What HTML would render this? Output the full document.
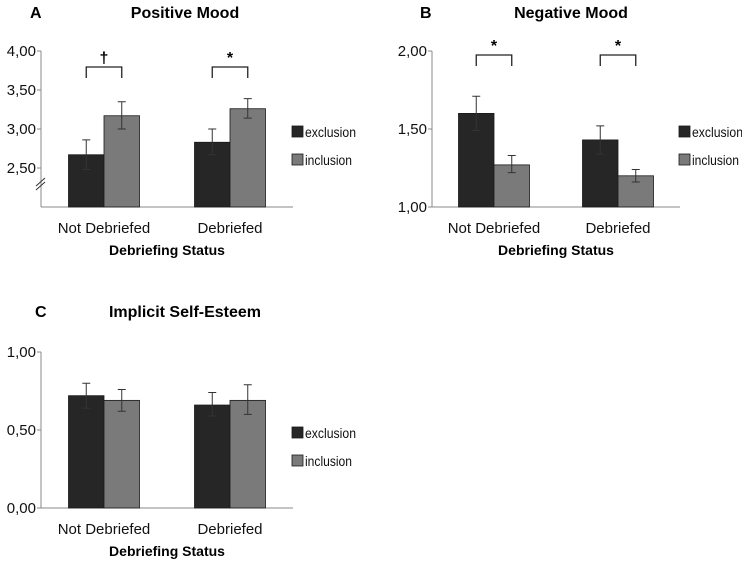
<!DOCTYPE html>
<html><head><meta charset="utf-8"><style>
body{margin:0;background:#fff;width:742px;height:563px;overflow:hidden;font-family:"Liberation Sans",sans-serif}
svg text{font-family:"Liberation Sans",sans-serif}
</style></head><body>
<svg id="c" width="742" height="563"></svg>
<script>
const categories=["Not Debriefed","Debriefed"];
const seriesNames=["exclusion","inclusion"];
const posMood=[[2.67,3.17],[2.83,3.26]];
const posErrLo=[[2.48,3.00],[2.67,3.14]];
const posErrHi=[[2.86,3.35],[3.00,3.39]];
const negMood=[[1.60,1.27],[1.43,1.20]];
const negErrLo=[[1.49,1.22],[1.34,1.16]];
const negErrHi=[[1.71,1.33],[1.52,1.24]];
const selfEsteem=[[0.72,0.69],[0.66,0.69]];
const seErrLo=[[0.64,0.62],[0.59,0.60]];
const seErrHi=[[0.80,0.76],[0.74,0.79]];
const posTicks=["4,00","3,50","3,00","2,50"];
const posTickVals=[4,3.5,3,2.5];
const negTicks=["2,00","1,50","1,00"];
const negTickVals=[2,1.5,1];
const seTicks=["1,00","0,50","0,00"];
const seTickVals=[1,0.5,0];
const posSig=["†","*"];
const negSig=["*","*"];
const NS="http://www.w3.org/2000/svg";
const svg=document.getElementById('c');
function el(t,a,p){const e=document.createElementNS(NS,t);for(const k in a)e.setAttribute(k,a[k]);(p||svg).appendChild(e);return e;}
const colors=["#262626","#7a7a7a"];
const legW=[51,47];
function panel(o){
  const g=el('g',{});
  
  
  const y=v=>o.y0+(v-o.vmin)/(o.vmax-o.vmin)*(o.y1-o.y0);
  let t=el('text',{x:o.lx,y:o.ty,'font-size':16,'font-weight':'bold'},g);t.textContent=o.letter;
  
  t=el('text',{x:o.tx,y:o.ty,'font-size':16,'font-weight':'bold','text-anchor':'middle'},g);t.textContent=o.title;
  
  el('line',{x1:o.ax,y1:o.y1,x2:o.ax,y2:o.y0,stroke:'#888','stroke-width':1},g);
  el('line',{x1:o.ax,y1:o.y0,x2:o.ax+o.aw,y2:o.y0,stroke:'#888','stroke-width':1},g);
  o.tickVals.forEach((v,i)=>{
    el('line',{x1:o.ax-4,y1:y(v),x2:o.ax,y2:y(v),stroke:'#888'},g);
    const tt=el('text',{x:o.ax-5,y:y(v)+5,'font-size':15,'text-anchor':'end',fill:'#111'},g);tt.textContent=o.ticks[i];
    
  });
  if(o.brk){el('line',{x1:o.ax-5,y1:186,x2:o.ax+4,y2:178,stroke:'#333'},g);el('line',{x1:o.ax-5,y1:190,x2:o.ax+4,y2:182,stroke:'#333'},g);}
  const bw=35.5;
  categories.forEach((c,ci)=>{
    const cx=o.ax+o.aw*(ci*2+1)/4;
    o.data[ci].forEach((v,si)=>{
      const x=cx-bw+si*bw;
      const r=el('rect',{x:x,y:y(v),width:bw,height:o.y0-y(v),fill:colors[si],stroke:'#1a1a1a','stroke-width':0.8},g);
      
      const ex=x+bw/2,lo=y(o.lo[ci][si]),hi=y(o.hi[ci][si]);
      const eb=el('path',{d:`M${ex},${lo}V${hi}M${ex-4},${lo}H${ex+4}M${ex-4},${hi}H${ex+4}`,stroke:'#333','stroke-width':1,fill:'none'},g);
      
    });
    const tt=el('text',{x:cx,y:o.catY,'font-size':15,'text-anchor':'middle',fill:'#111'},g);tt.textContent=c;
    
    if(o.sig){
      const b=el('path',{d:`M${cx-bw/2},${o.bY+11}V${o.bY}H${cx+bw/2}V${o.bY+11}`,stroke:'#222','stroke-width':1.3,fill:'none'},g);
      
      const s=el('text',{x:cx,y:o.bY-4,'font-size':16,'font-weight':'bold','text-anchor':'middle'},g);s.textContent=o.sig[ci];
      
    }
  });
  t=el('text',{x:o.ax+o.aw/2,y:o.catY+22,'font-size':14,'font-weight':'bold','text-anchor':'middle'},g);t.textContent="Debriefing Status";
  
  seriesNames.forEach((s,si)=>{
    const ly=o.legY+si*28;
    const r=el('rect',{x:o.legX,y:ly-6,width:11,height:11,fill:colors[si],stroke:'#1a1a1a','stroke-width':0.8},g);
    
    const tt=el('text',{x:o.legX+13,y:ly+5,'font-size':14,fill:'#111',textLength:legW[si],lengthAdjust:'spacingAndGlyphs'},g);tt.textContent=s;
    
  });
}
panel({name:'panel-a-positive-mood',letter:'A',title:'Positive Mood',lx:30,tx:185,ty:18,ax:41,aw:252,y0:207,y1:51,vmin:2,vmax:4,ticks:posTicks,tickVals:posTickVals,data:posMood,lo:posErrLo,hi:posErrHi,sig:posSig,bY:67,catY:233,legX:292,legY:132,brk:true});
panel({name:'panel-b-negative-mood',letter:'B',title:'Negative Mood',lx:420,tx:571,ty:18,ax:432,aw:248,y0:207,y1:51,vmin:1,vmax:2,ticks:negTicks,tickVals:negTickVals,data:negMood,lo:negErrLo,hi:negErrHi,sig:negSig,bY:55,catY:233,legX:679,legY:132});
panel({name:'panel-c-implicit-self-esteem',letter:'C',title:'Implicit Self-Esteem',lx:35,tx:185,ty:317,ax:41,aw:252,y0:508,y1:352,vmin:0,vmax:1,ticks:seTicks,tickVals:seTickVals,data:selfEsteem,lo:seErrLo,hi:seErrHi,catY:534,legX:292,legY:433});
</script>
</body></html>
